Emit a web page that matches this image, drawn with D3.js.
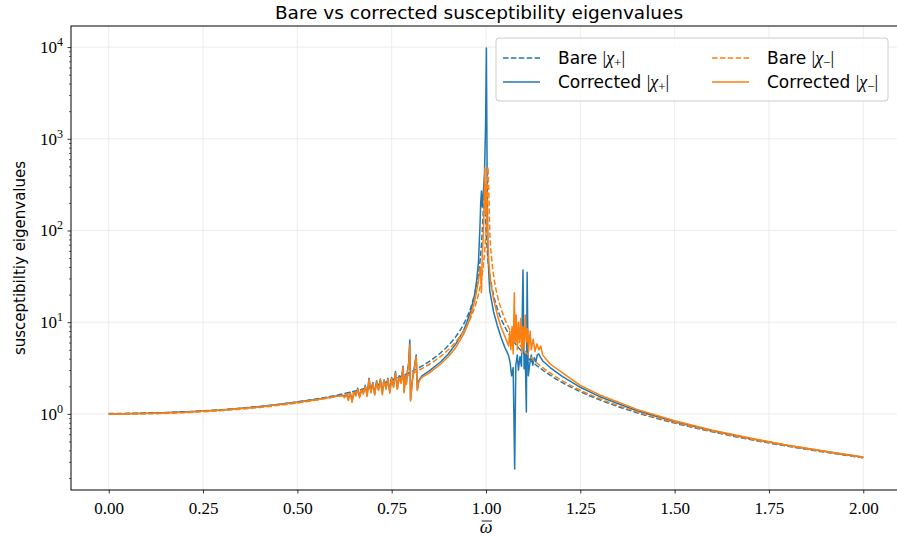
<!DOCTYPE html>
<html>
<head>
<meta charset="utf-8">
<script src="https://cdn.jsdelivr.net/npm/d3@7"></script>
<style>
  html, body { margin: 0; padding: 0; background: #fff; }
  svg { display: block; }
  .sans { font-family: "DejaVu Sans", sans-serif; }
  .serif { font-family: "Liberation Serif", "DejaVu Serif", serif; }
</style>
</head>
<body>
<div id="chart"></div>
<script>
// bare |chi+| (dashed blue)
const omegaBarePlus = [0, 0.1, 0.2, 0.3, 0.4, 0.5, 0.6, 0.65, 0.7, 0.75, 0.8, 0.85, 0.88, 0.9, 0.92, 0.94, 0.96, 0.97, 0.98, 0.985, 0.99, 0.993, 0.995, 0.997, 1.0, 1.005, 1.01, 1.02, 1.03, 1.04, 1.05, 1.07, 1.1, 1.12, 1.15, 1.2, 1.25, 1.3, 1.4, 1.5, 1.6, 1.7, 1.8, 1.9, 2.0];
const chiBarePlus = [1.01, 1.02, 1.053, 1.111, 1.205, 1.351, 1.587, 1.762, 2.0, 2.339, 2.857, 3.738, 4.64, 5.56, 6.96, 9.4, 14.6, 20.4, 33.8, 50.5, 95, 170, 250, 190, 100, 50, 33, 19.8, 14.1, 10.9, 8.9, 6.46, 4.55, 3.78, 3.01, 2.22, 1.747, 1.43, 1.031, 0.794, 0.637, 0.526, 0.444, 0.382, 0.332];

// bare |chi-| (dashed orange)
const omegaBareMinus = [0, 0.1, 0.2, 0.3, 0.4, 0.5, 0.6, 0.65, 0.7, 0.75, 0.8, 0.85, 0.88, 0.9, 0.92, 0.94, 0.96, 0.97, 0.98, 0.99, 0.995, 1.0, 1.003, 1.005, 1.007, 1.01, 1.015, 1.02, 1.03, 1.04, 1.05, 1.07, 1.1, 1.12, 1.15, 1.2, 1.25, 1.3, 1.4, 1.5, 1.6, 1.7, 1.8, 1.9, 2.0];
const chiBareMinus = [0.99, 1.0, 1.031, 1.087, 1.176, 1.316, 1.538, 1.702, 1.923, 2.235, 2.703, 3.478, 4.244, 5.0, 6.11, 7.91, 11.3, 14.5, 20.2, 33.4, 50, 100, 200, 490, 300, 99, 49.5, 32.9, 19.6, 14.0, 10.8, 7.41, 5.0, 4.09, 3.2, 2.33, 1.81, 1.47, 1.053, 0.806, 0.645, 0.532, 0.448, 0.385, 0.334];

// corrected |chi+| (solid blue)
const omegaCorrPlus = [0, 0.1, 0.2, 0.3, 0.4, 0.5, 0.55, 0.6, 0.62,
  0.625, 0.63, 0.635, 0.64, 0.645, 0.65, 0.655, 0.66, 0.665, 0.67, 0.675, 0.68, 0.685, 0.69, 0.695, 0.70,
  0.705, 0.71, 0.715, 0.72, 0.725, 0.73, 0.735, 0.74, 0.745, 0.75, 0.755, 0.76, 0.765, 0.77, 0.775, 0.78,
  0.783, 0.786, 0.789, 0.792, 0.795, 0.798, 0.800, 0.805, 0.81, 0.815, 0.818, 0.822, 0.826, 0.83,
  0.85, 0.88, 0.9, 0.92, 0.94, 0.95, 0.96, 0.97, 0.975, 0.98, 0.984, 0.986, 0.988, 0.99, 0.993, 0.996, 0.999,
  1.001, 1.003, 1.005, 1.008, 1.01, 1.02, 1.03, 1.04, 1.05, 1.055, 1.06, 1.064, 1.068, 1.072, 1.076, 1.079,
  1.083, 1.086, 1.09, 1.094, 1.098, 1.101, 1.104, 1.107, 1.109, 1.112, 1.116, 1.12, 1.124, 1.128, 1.132,
  1.136, 1.14, 1.145, 1.15, 1.17, 1.2, 1.25, 1.3, 1.4, 1.5, 1.6, 1.7, 1.8, 1.9, 2.0];
const chiCorrPlus = [1.0, 1.015, 1.05, 1.105, 1.2, 1.345, 1.44, 1.56, 1.6,
  1.55, 1.66, 1.45, 1.72, 1.38, 1.75, 1.6, 1.9, 1.55, 1.85, 1.7, 2.05, 1.6, 2.45, 1.75, 2.2,
  1.65, 2.3, 1.85, 2.4, 1.7, 2.35, 1.9, 2.45, 1.75, 2.5, 2.0, 2.9, 1.9, 2.6, 2.2, 3.3,
  1.75, 2.6, 2.2, 3.0, 3.6, 6.4, 1.42, 2.4, 3.2, 4.4, 1.85, 2.3, 2.45, 2.6,
  2.95, 3.7, 4.5, 5.8, 8.0, 10.2, 13.5, 20, 28, 45, 110, 200, 270, 180, 260, 420, 1500,
  9800, 400, 60, 30, 22, 13, 9.2, 6.8, 5.3, 4.8, 4.3, 3.6, 2.6, 3.2, 0.25, 3.4,
  4.4, 3.0, 4.2, 3.3, 37, 3.1, 4.5, 1.05, 35, 2.6, 3.5, 4.4, 3.4, 4.1, 3.7,
  4.4, 4.5, 4.1, 3.8, 3.2, 2.6, 1.95, 1.55, 1.08, 0.82, 0.655, 0.54, 0.452, 0.388, 0.337];

// corrected |chi-| (solid orange)
const omegaCorrMinus = [0, 0.1, 0.2, 0.3, 0.4, 0.5, 0.55, 0.6, 0.62,
  0.625, 0.63, 0.635, 0.64, 0.645, 0.65, 0.655, 0.66, 0.665, 0.67, 0.675, 0.68, 0.685, 0.69, 0.695, 0.70,
  0.705, 0.71, 0.715, 0.72, 0.725, 0.73, 0.735, 0.74, 0.745, 0.75, 0.755, 0.76, 0.765, 0.77, 0.775, 0.78,
  0.783, 0.786, 0.789, 0.792, 0.795, 0.798, 0.800, 0.805, 0.81, 0.815, 0.818, 0.822, 0.826, 0.83,
  0.85, 0.88, 0.9, 0.92, 0.94, 0.95, 0.96, 0.97, 0.98, 0.985, 0.988, 0.99, 0.993, 0.995, 0.997, 0.999,
  1.001, 1.003, 1.005, 1.008, 1.012, 1.02, 1.03, 1.04, 1.05, 1.055, 1.06, 1.063, 1.066, 1.069, 1.072, 1.075,
  1.077, 1.08, 1.083, 1.086, 1.089, 1.092, 1.095, 1.098, 1.101, 1.104, 1.107, 1.11, 1.113, 1.117, 1.12,
  1.125, 1.13, 1.135, 1.14, 1.145, 1.15, 1.17, 1.2, 1.25, 1.3, 1.4, 1.5, 1.6, 1.7, 1.8, 1.9, 2.0];
const chiCorrMinus = [0.995, 1.008, 1.04, 1.1, 1.19, 1.335, 1.43, 1.55, 1.59,
  1.5, 1.64, 1.4, 1.7, 1.34, 1.72, 1.56, 1.86, 1.5, 1.82, 1.64, 2.0, 1.55, 2.4, 1.7, 2.15,
  1.6, 2.25, 1.8, 2.35, 1.62, 2.3, 1.85, 2.4, 1.68, 2.45, 1.95, 2.8, 1.85, 2.5, 2.15, 3.2,
  1.7, 2.5, 2.1, 2.9, 3.4, 5.7, 1.38, 2.3, 3.1, 4.2, 1.8, 2.25, 2.4, 2.5,
  2.8, 3.5, 4.2, 5.3, 7.3, 9.0, 12, 17, 28, 40, 21, 55, 90, 200, 480, 150,
  320, 120, 70, 42, 28, 18, 12, 8.8, 7.0, 6.2, 5.5, 8, 5, 9, 4.5, 21,
  6, 12, 5, 10, 6, 11, 4.6, 9, 5.2, 12, 6, 8.5, 4.8, 8, 5,
  6.5, 4.8, 5.8, 5, 5.5, 4.4, 3.5, 2.85, 2.05, 1.62, 1.12, 0.84, 0.665, 0.545, 0.456, 0.391, 0.339];

const xTicks = [0, 0.25, 0.5, 0.75, 1.0, 1.25, 1.5, 1.75, 2.0];
const yDecades = [0, 1, 2, 3, 4];

const series = [
  { name: 'Bare', sub: '+', xs: omegaBarePlus, ys: chiBarePlus, color: '#1f77b4', dashed: true },
  { name: 'Corrected', sub: '+', xs: omegaCorrPlus, ys: chiCorrPlus, color: '#1f77b4', dashed: false },
  { name: 'Bare', sub: '\u2212', xs: omegaBareMinus, ys: chiBareMinus, color: '#ff7f0e', dashed: true },
  { name: 'Corrected', sub: '\u2212', xs: omegaCorrMinus, ys: chiCorrMinus, color: '#ff7f0e', dashed: false }
];

const width = 897, height = 541;
const margin = { left: 71, top: 26, right: -4, bottom: 51 };
const plotW = width - margin.left - margin.right;
const plotH = height - margin.top - margin.bottom;

const svg = d3.select('#chart').append('svg')
  .attr('width', width)
  .attr('height', height);

const x = d3.scaleLinear().domain([-0.1, 2.1]).range([margin.left, margin.left + plotW]);
const y = d3.scaleLog().domain([Math.pow(10, -0.83), Math.pow(10, 4.23)]).range([margin.top + plotH, margin.top]);

// grid
const grid = svg.append('g');
grid.selectAll('.gx').data(xTicks).enter().append('line')
  .attr('x1', d => x(d)).attr('x2', d => x(d))
  .attr('y1', margin.top).attr('y2', margin.top + plotH)
  .attr('stroke', '#ebebeb').attr('stroke-width', 0.9);
grid.selectAll('.gy').data(yDecades).enter().append('line')
  .attr('x1', margin.left).attr('x2', margin.left + plotW)
  .attr('y1', d => y(Math.pow(10, d))).attr('y2', d => y(Math.pow(10, d)))
  .attr('stroke', '#ebebeb').attr('stroke-width', 0.9);

// lines
svg.append('clipPath').attr('id', 'clip').append('rect')
  .attr('x', margin.left).attr('y', margin.top).attr('width', plotW).attr('height', plotH);

const lineGen = d3.line()
  .x(d => x(d[0]))
  .y(d => y(d[1]));

const lines = svg.append('g').attr('clip-path', 'url(#clip)');
series.forEach(s => {
  const pts = s.xs.map((v, i) => [v, s.ys[i]]);
  lines.append('path')
    .datum(pts)
    .attr('fill', 'none')
    .attr('stroke', s.color)
    .attr('stroke-width', 1.5)
    .attr('stroke-linejoin', 'round')
    .attr('stroke-dasharray', s.dashed ? '5.5,2.4' : null)
    .attr('d', lineGen.curve(s.dashed ? d3.curveMonotoneX : d3.curveLinear));
});

// axes
const xAxis = d3.axisBottom(x).tickValues(xTicks).tickSize(3.5).tickPadding(5)
  .tickFormat(d3.format('.2f'));
const gx = svg.append('g').attr('transform', `translate(0,${margin.top + plotH})`).call(xAxis);
gx.select('.domain').remove();
gx.selectAll('text').attr('class', 'serif').style('font-size', '17px').attr('fill', '#000').attr('dy', '0.9em');
gx.selectAll('line').attr('stroke-width', 0.8);

const minorVals = [];
yDecades.concat([-1]).forEach(dd => {
  for (let k = 2; k <= 9; k++) {
    const v = k * Math.pow(10, dd);
    if (v >= y.domain()[0] && v <= y.domain()[1]) minorVals.push(v);
  }
});
const gyMinor = svg.append('g').attr('transform', `translate(${margin.left},0)`)
  .call(d3.axisLeft(y).tickValues(minorVals).tickSize(2).tickFormat(''));
gyMinor.select('.domain').remove();
gyMinor.selectAll('line').attr('stroke-width', 0.6);

const gy = svg.append('g').attr('transform', `translate(${margin.left},0)`)
  .call(d3.axisLeft(y).tickValues(yDecades.map(d => Math.pow(10, d))).tickSize(3.5).tickFormat(''));
gy.select('.domain').remove();
gy.selectAll('line').attr('stroke-width', 0.8);

const yLabels = svg.append('g');
yDecades.forEach(d => {
  const t = yLabels.append('text').attr('class', 'serif')
    .attr('x', margin.left - 8).attr('y', y(Math.pow(10, d)) + 6)
    .attr('text-anchor', 'end').style('font-size', '17px');
  t.append('tspan').text('10');
  t.append('tspan').attr('dy', -7).style('font-size', '12px').text(d);
});

// frame
svg.append('rect')
  .attr('x', margin.left).attr('y', margin.top).attr('width', plotW).attr('height', plotH)
  .attr('fill', 'none').attr('stroke', '#000').attr('stroke-width', 1);

// title and labels
svg.append('text').attr('class', 'sans')
  .attr('x', 479).attr('y', 19)
  .attr('text-anchor', 'middle').style('font-size', '18.5px')
  .text('Bare vs corrected susceptibility eigenvalues');

svg.append('text').attr('class', 'sans')
  .attr('transform', `translate(25,${margin.top + plotH / 2}) rotate(-90)`)
  .attr('text-anchor', 'middle').style('font-size', '15px')
  .text('susceptibiltiy eigenvalues');

const xlab = svg.append('text').attr('class', 'serif')
  .attr('x', x(1)).attr('y', 533)
  .attr('text-anchor', 'middle').style('font-size', '18px').style('font-style', 'italic')
  .text('\u03c9');
const xb = xlab.node().getBBox();
svg.append('line')
  .attr('x1', xb.x + 2).attr('x2', xb.x + xb.width - 0.5)
  .attr('y1', xb.y + 4).attr('y2', xb.y + 4)
  .attr('stroke', '#000').attr('stroke-width', 0.9);

// legend
const legend = svg.append('g');
legend.append('rect')
  .attr('x', 496).attr('y', 38).attr('width', 392).attr('height', 63).attr('rx', 3)
  .attr('fill', '#fff').attr('fill-opacity', 0.8)
  .attr('stroke', '#cccccc').attr('stroke-width', 1);

const legendPos = [
  { lx: 503, ty: 58 }, { lx: 503, ty: 82 }, { lx: 712, ty: 58 }, { lx: 712, ty: 82 }
];
series.forEach((s, i) => {
  const p = legendPos[i];
  legend.append('line')
    .attr('x1', p.lx).attr('x2', p.lx + 37)
    .attr('y1', p.ty).attr('y2', p.ty)
    .attr('stroke', s.color).attr('stroke-width', 1.5)
    .attr('stroke-dasharray', s.dashed ? '5.5,2.4' : null);
  const t = legend.append('text').attr('x', p.lx + 55).attr('y', p.ty + 6)
    .style('font-size', '17px');
  t.append('tspan').attr('class', 'sans').text(s.name + ' ');
  t.append('tspan').attr('class', 'serif').style('font-size', '18px').text('|');
  t.append('tspan').attr('class', 'serif').style('font-style', 'italic').style('font-size', '18px').text('\u03c7');
  t.append('tspan').attr('class', 'serif').attr('dy', 3).style('font-size', '13px').text(s.sub);
  t.append('tspan').attr('class', 'serif').attr('dy', -3).style('font-size', '18px').text('|');
});
</script>
</body>
</html>
